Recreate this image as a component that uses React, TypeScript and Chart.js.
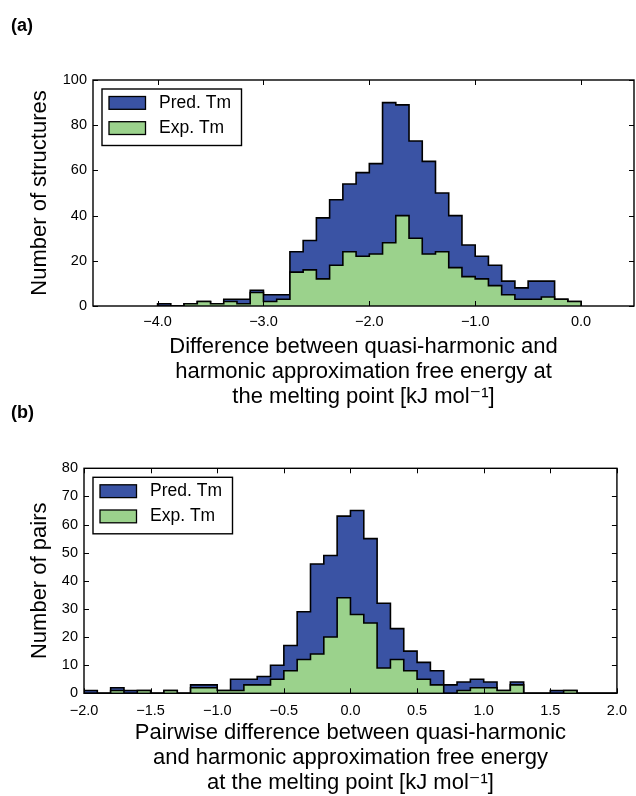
import React, { useEffect, useRef } from "react";
import { Chart, registerables } from "chart.js";

Chart.register(...registerables);

// ---------------- Data ----------------
// Panel (a): bins of width 0.125 starting at -4.0
const BIN_START_A = -4.0;
const BIN_WIDTH_A = 0.125;
const PRED_A = [1, 0, 1, 2, 1, 3, 3, 7, 5, 5, 24, 29, 39, 47, 54, 59, 63, 90, 89, 73, 64, 50, 40, 27, 22, 18, 11, 8, 11, 11, 3, 2];
const EXP_A = [0, 0, 1, 2, 1, 2, 1, 6, 2, 3, 15, 16, 12, 18, 24, 22, 23, 28, 40, 30, 23, 24, 17, 13, 12, 9, 5, 3, 3, 4, 3, 2];
const X_TICKS_A = [-4, -3, -2, -1, 0];
const Y_TICKS_A = [0, 20, 40, 60, 80, 100];
const X_TITLE_A = [
  "Difference between quasi-harmonic and",
  "harmonic approximation free energy at",
  "the melting point [kJ mol\u207B\u00B9]",
];
const Y_TITLE_A = "Number of structures";

// Panel (b): bins of width 0.1 starting at -2.0
const BIN_START_B = -2.0;
const BIN_WIDTH_B = 0.1;
const PRED_B = [1, 0, 2, 1, 1, 0, 1, 0, 3, 3, 1, 5, 5, 6, 10, 17, 29, 46, 49, 63, 65, 55, 32, 23, 15, 11, 8, 3, 4, 5, 4, 1, 4, 0, 0, 1, 1, 0, 0, 0];
const EXP_B = [0, 0, 1, 0, 1, 0, 1, 0, 2, 2, 1, 1, 3, 3, 5, 8, 12, 14, 20, 34, 28, 25, 9, 12, 8, 5, 3, 0, 1, 2, 2, 1, 3, 0, 0, 0, 1, 0, 0, 0];
const X_TICKS_B = [-2, -1.5, -1, -0.5, 0, 0.5, 1, 1.5, 2];
const Y_TICKS_B = [0, 10, 20, 30, 40, 50, 60, 70, 80];
const X_TITLE_B = [
  "Pairwise difference between quasi-harmonic",
  "and harmonic approximation free energy",
  "at the melting point [kJ mol\u207B\u00B9]",
];
const Y_TITLE_B = "Number of pairs";

const SERIES_LABELS = ["Pred. Tm", "Exp. Tm"];

// ---------------- Style ----------------
const BLUE = "#3a53a4";
const GREEN = "#9bd28c";
const FONT = "'Liberation Sans', Arial, 'DejaVu Sans', sans-serif";

function stepData(start: number, width: number, counts: number[]) {
  const pts: { x: number; y: number }[] = [{ x: start, y: 0 }];
  counts.forEach((c, i) => pts.push({ x: start + i * width, y: c }));
  pts.push({ x: start + counts.length * width, y: 0 });
  return pts;
}

const fmtX = (v: any) => Number(v).toFixed(1).replace("-", "\u2212");

const framePlugin = {
  id: "frameAndLegend",
  afterDatasetsDraw(chart: any) {
    const { ctx, chartArea: a } = chart;
    const xs = chart.scales.x;
    const ys = chart.scales.y;
    ctx.save();
    ctx.strokeStyle = "#000";
    ctx.lineWidth = 1;
    const TL = 5;
    xs.ticks.forEach((t: any) => {
      const px = Math.round(xs.getPixelForValue(t.value)) + 0.5;
      ctx.beginPath();
      ctx.moveTo(px, a.bottom);
      ctx.lineTo(px, a.bottom - TL);
      ctx.moveTo(px, a.top);
      ctx.lineTo(px, a.top + TL);
      ctx.stroke();
    });
    ys.ticks.forEach((t: any) => {
      const py = Math.round(ys.getPixelForValue(t.value)) + 0.5;
      ctx.beginPath();
      ctx.moveTo(a.left, py);
      ctx.lineTo(a.left + TL, py);
      ctx.moveTo(a.right, py);
      ctx.lineTo(a.right - TL, py);
      ctx.stroke();
    });
    ctx.lineWidth = 1.4;
    ctx.strokeRect(a.left, a.top, a.right - a.left, a.bottom - a.top);

    // legend box
    const bx = a.left + 9;
    const by = a.top + 9;
    const bw = 139.5;
    const bh = 56.5;
    ctx.fillStyle = "#fff";
    ctx.fillRect(bx, by, bw, bh);
    ctx.lineWidth = 1.4;
    ctx.strokeRect(bx, by, bw, bh);
    const colors = [BLUE, GREEN];
    ctx.font = `17.5px ${FONT}`;
    ctx.textBaseline = "middle";
    ctx.textAlign = "left";
    SERIES_LABELS.forEach((lab, i) => {
      const py = by + 7.5 + i * 25.2;
      ctx.fillStyle = colors[i];
      ctx.fillRect(bx + 7, py, 36.5, 12.8);
      ctx.lineWidth = 1.3;
      ctx.strokeStyle = "#000";
      ctx.strokeRect(bx + 7, py, 36.5, 12.8);
      ctx.fillStyle = "#000";
      ctx.fillText(lab, bx + 57, py + 6.6);
    });
    ctx.restore();
  },
};

interface PanelCfg {
  width: number;
  height: number;
  padTop: number;
  padRight: number;
  yWidth: number;
  xHeight: number;
  xMin: number;
  xMax: number;
  yMax: number;
  xTicks: number[];
  yTicks: number[];
  xTitle: string[];
  yTitle: string;
  start: number;
  binW: number;
  pred: number[];
  exp: number[];
  xTickPad: number;
  xTitlePadBottom: number;
  yTitlePadTop: number;
}

function makeConfig(p: PanelCfg): any {
  const tickFont = { family: FONT, size: 14.5 };
  const titleFont = { family: FONT, size: 22, lineHeight: 1.155 };
  return {
    type: "line",
    data: {
      datasets: [
        {
          label: SERIES_LABELS[0],
          data: stepData(p.start, p.binW, p.pred),
          stepped: "before",
          fill: "origin",
          backgroundColor: BLUE,
          borderColor: "#000",
          borderWidth: 1.6,
          pointRadius: 0,
          order: 1,
        },
        {
          label: SERIES_LABELS[1],
          data: stepData(p.start, p.binW, p.exp),
          stepped: "before",
          fill: "origin",
          backgroundColor: GREEN,
          borderColor: "#000",
          borderWidth: 1.6,
          pointRadius: 0,
          order: 0,
        },
      ],
    },
    options: {
      responsive: false,
      animation: false,
      events: [],
      layout: { padding: { top: p.padTop, right: p.padRight, left: 0, bottom: 0 } },
      plugins: {
        legend: { display: false },
        tooltip: { enabled: false },
        filler: { drawTime: "beforeDatasetDraw" },
      },
      scales: {
        x: {
          type: "linear",
          min: p.xMin,
          max: p.xMax,
          grid: { display: false, drawTicks: false },
          border: { display: false },
          afterBuildTicks: (s: any) => {
            s.ticks = p.xTicks.map((v) => ({ value: v }));
          },
          afterFit: (s: any) => {
            s.height = p.xHeight;
          },
          ticks: {
            padding: p.xTickPad,
            color: "#000",
            font: tickFont,
            maxRotation: 0,
            autoSkip: false,
            callback: (v: any) => fmtX(v),
          },
          title: {
            display: true,
            text: p.xTitle,
            color: "#000",
            font: titleFont,
            padding: { top: 0, bottom: p.xTitlePadBottom },
          },
        },
        y: {
          type: "linear",
          min: 0,
          max: p.yMax,
          grid: { display: false, drawTicks: false },
          border: { display: false },
          afterBuildTicks: (s: any) => {
            s.ticks = p.yTicks.map((v) => ({ value: v }));
          },
          afterFit: (s: any) => {
            s.width = p.yWidth;
          },
          ticks: {
            padding: 6,
            color: "#000",
            font: tickFont,
            autoSkip: false,
            callback: (v: any) => String(v),
          },
          title: {
            display: true,
            text: p.yTitle,
            color: "#000",
            font: titleFont,
            padding: { top: p.yTitlePadTop, bottom: 0 },
          },
        },
      },
    },
    plugins: [framePlugin],
  };
}

const PANEL_A: PanelCfg = {
  width: 636,
  height: 410,
  padTop: 80,
  padRight: 2,
  yWidth: 93,
  xHeight: 104,
  xMin: -4.61,
  xMax: 0.5,
  yMax: 100,
  xTicks: X_TICKS_A,
  yTicks: Y_TICKS_A,
  xTitle: X_TITLE_A,
  yTitle: Y_TITLE_A,
  start: BIN_START_A,
  binW: BIN_WIDTH_A,
  pred: PRED_A,
  exp: EXP_A,
  xTickPad: 7.5,
  xTitlePadBottom: 0,
  yTitlePadTop: 27.5,
};

const PANEL_B: PanelCfg = {
  width: 636,
  height: 386,
  padTop: 58.3,
  padRight: 14,
  yWidth: 84,
  xHeight: 102.7,
  xMin: -2,
  xMax: 2,
  yMax: 80,
  xTicks: X_TICKS_B,
  yTicks: Y_TICKS_B,
  xTitle: X_TITLE_B,
  yTitle: Y_TITLE_B,
  start: BIN_START_B,
  binW: BIN_WIDTH_B,
  pred: PRED_B,
  exp: EXP_B,
  xTickPad: 9,
  xTitlePadBottom: 0,
  yTitlePadTop: 27.5,
};

function Panel({ cfg, top }: { cfg: PanelCfg; top: number }) {
  const ref = useRef<HTMLCanvasElement | null>(null);
  useEffect(() => {
    if (!ref.current) return;
    const chart = new Chart(ref.current, makeConfig(cfg));
    return () => chart.destroy();
  }, [cfg]);
  return (
    <canvas
      ref={ref}
      width={cfg.width}
      height={cfg.height}
      style={{ position: "absolute", left: 0, top, width: cfg.width, height: cfg.height }}
    />
  );
}

const labelStyle: React.CSSProperties = {
  position: "absolute",
  left: 11,
  fontFamily: FONT,
  fontWeight: "bold",
  fontSize: 18,
  lineHeight: "18px",
  color: "#000",
};

export default function App() {
  return (
    <div style={{ position: "absolute", left: 0, top: 0, width: 636, height: 796, background: "#fff" }}>
      <Panel cfg={PANEL_A} top={0} />
      <Panel cfg={PANEL_B} top={410} />
      <div style={{ ...labelStyle, top: 15.5 }}>(a)</div>
      <div style={{ ...labelStyle, top: 402.5 }}>(b)</div>
    </div>
  );
}
